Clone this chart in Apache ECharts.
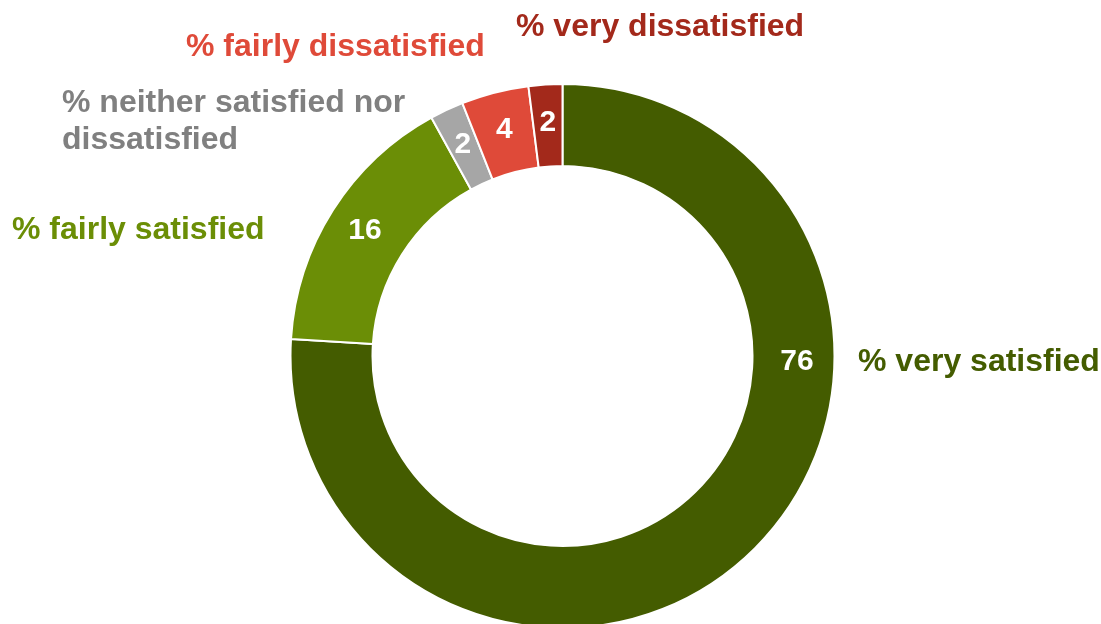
<!DOCTYPE html>
<html>
<head>
<meta charset="utf-8">
<script src="https://cdn.jsdelivr.net/npm/echarts@6/dist/echarts.min.js"></script>
<style>
html,body{margin:0;padding:0;background:#fff;}
#chart{width:1101px;height:624px;}
</style>
</head>
<body>
<div id="chart"></div>
<script>
const categories = ['% very satisfied', '% fairly satisfied', '% neither satisfied nor\ndissatisfied', '% fairly dissatisfied', '% very dissatisfied'];
const values = [76, 16, 2, 4, 2];
const sliceColors = ['#445C00', '#6B8E06', '#A6A6A6', '#DF4A39', '#A3291B'];
const textColors = ['#445C00', '#6B8E06', '#808080', '#DF4A39', '#A3291B'];

const FONT = '"Liberation Sans", Arial, sans-serif';
const chart = echarts.init(document.getElementById('chart'));

const namePos = [
  {x: 858, y: 362},
  {x: 12, y: 230},
  {x: 62, y: 122},
  {x: 186, y: 47},
  {x: 516, y: 27}
];

chart.setOption({
  animation: false,
  backgroundColor: '#fff',
  series: [{
    type: 'pie',
    center: [562.5, 356],
    radius: [190, 272],
    startAngle: 90,
    clockwise: true,
    avoidLabelOverlap: false,
    itemStyle: {borderColor: '#fff', borderWidth: 2},
    label: {
      show: true,
      position: 'inside',
      formatter: '{c}',
      color: '#fff',
      fontFamily: FONT,
      fontWeight: 'bold',
      fontSize: 30
    },
    labelLine: {show: false},
    labelLayout: function (p) {
      if (p.dataIndex === 0) {
        return {x: 797, y: 362, align: 'center', verticalAlign: 'middle'};
      }
      return {};
    },
    data: categories.map((c, i) => ({name: c, value: values[i], itemStyle: {color: sliceColors[i]}}))
  }],
  graphic: categories.map((c, i) => ({
    type: 'text',
    x: namePos[i].x,
    y: namePos[i].y,
    style: {
      text: c,
      fill: textColors[i],
      font: 'bold 32px ' + FONT,
      lineHeight: 37,
      textAlign: 'left',
      textVerticalAlign: 'middle'
    }
  }))
});
</script>
</body>
</html>
